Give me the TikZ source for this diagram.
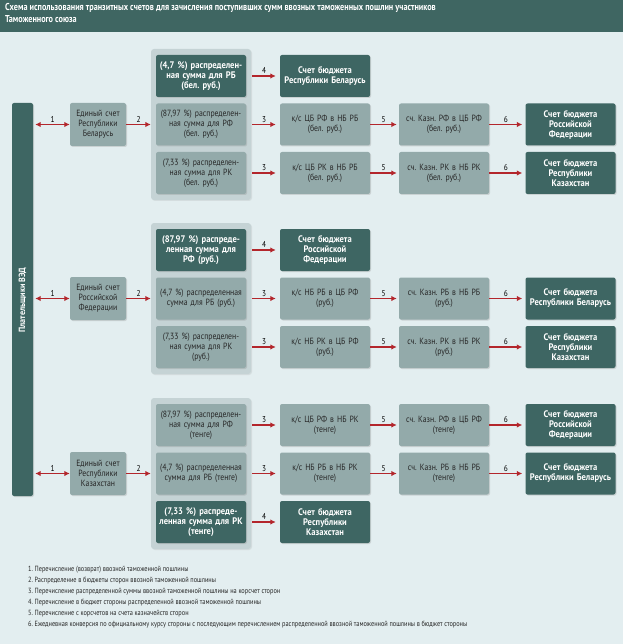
\documentclass[tikz,border=0pt]{standalone}
\usepackage{fontspec}
\setmainfont{PT Sans}[FakeStretch=0.82]
\newfontfamily\boxfont{PT Sans}[FakeStretch=0.86]
\newfontfamily\darkfont{PT Sans}[FakeStretch=0.9]
\newfontfamily\notefont{PT Sans}[FakeStretch=0.84]
\usepackage{tikz}
\usetikzlibrary{arrows.meta,shadows}
\definecolor{pagebg}{HTML}{E3EEF0}
\definecolor{headbg}{HTML}{3F6662}
\definecolor{darkbox}{HTML}{3E6663}
\definecolor{lightbox}{HTML}{93AAAA}
\definecolor{grpbox}{HTML}{C5D3D5}
\definecolor{arrred}{HTML}{B3262C}
\tikzset{
  >={Latex[length=5.5pt,width=5.5pt]},
  boxbase/.style={rounded corners=2pt, align=center, inner sep=1pt,
    text width=88pt, minimum width=90pt, minimum height=42pt,
    drop shadow={shadow xshift=1pt,shadow yshift=-1pt,opacity=0.25}},
  darkbox/.style={boxbase, fill=darkbox, text=white, font=\darkfont\fontsize{9.5}{10}\selectfont\bfseries},
  lightbox/.style={boxbase, fill=lightbox, text=black!85, font=\boxfont\fontsize{9}{10}\selectfont},
  unibox/.style={lightbox, text width=54pt, minimum width=54pt, minimum height=43pt},
  grpbox/.style={fill=grpbox, rounded corners=3pt, minimum width=100pt, minimum height=151pt,
    drop shadow={shadow xshift=1pt,shadow yshift=-1pt,opacity=0.15}},
  flow/.style={->, line width=1.7pt, draw=arrred},
  num/.style={font=\boxfont\fontsize{8.5}{9}\selectfont, text=black, above=1.5pt, inner sep=0pt}
}
\begin{document}
\frenchspacing
\begin{tikzpicture}[x=1pt,y=-1pt]
    \useasboundingbox (0,0) rectangle (623,644);
    % Page and header
    \fill[pagebg] (0,0) rectangle (623,644);
    \fill[headbg] (0,0) rectangle (623,32);
    \node[anchor=north west, text=white, align=left, inner sep=0pt,
      font=\fontsize{10}{12.5}\selectfont\bfseries] (title) at (5,3)
      {Схема использования транзитных счетов для зачисления поступивших сумм ввозных таможенных пошлин участников\\Таможенного союза};
    % Payers bar
    \node[darkbox, text width=, minimum width=21pt, minimum height=393pt] (payers) at (22.5,299.5) {};
    \node[rotate=90, text=white, font=\darkfont\fontsize{9}{10}\selectfont\bfseries] (payerstext) at (22.5,300) {Плательщики ВЭД};

    % ---- Belarus block ----
    \node[grpbox] (g1) at (201,124.5) {};
    \node[unibox] (e1) at (98,124.5) {Единый счет\\Республики\\Беларусь};
    \node[darkbox] (a1) at (201,76) {(4,7 \%) распределен-\\ная сумма для РБ\\(бел. руб.)};
    \node[lightbox] (a2) at (201,124.5) {(87,97 \%) распределен-\\ная сумма для РФ\\(бел. руб.)};
    \node[lightbox] (a3) at (201,173) {(7,33 \%) распределен-\\ная сумма для РК\\(бел. руб.)};
    \node[darkbox] (ab1) at (325,76) {Счет бюджета\\Республики Беларусь};
    \node[lightbox] (ak2) at (325,124.5) {к/с ЦБ РФ в НБ РБ\\(бел. руб.)};
    \node[lightbox] (ak3) at (325,173) {к/с ЦБ РК в НБ РБ\\(бел. руб.)};
    \node[lightbox, minimum width=88pt] (at2) at (444,124.5) {сч. Казн. РФ в ЦБ РФ\\(бел. руб.)};
    \node[lightbox, minimum width=88pt] (at3) at (444,173) {сч. Казн. РК в НБ РК\\(бел. руб.)};
    \node[darkbox] (ab2) at (570.5,124.5) {Счет бюджета\\Российской\\Федерации};
    \node[darkbox] (ab3) at (570.5,173) {Счет бюджета\\Республики\\Казахстан};
    \draw[flow, <->] ([xshift=2pt]payers.east|-e1) -- node[num] {1} (e1.west);
    \draw[flow] (e1.east) -- node[num] {2} (g1.west|-e1);
    \draw[flow] ([xshift=1pt]g1.east|-a1) -- node[num] {4} ([xshift=-4pt]ab1.west);
    \draw[flow] ([xshift=1pt]g1.east|-a2) -- node[num] {3} ([xshift=-4pt]ak2.west);
    \draw[flow] ([xshift=1pt]g1.east|-a3) -- node[num] {3} ([xshift=-4pt]ak3.west);
    \draw[flow] (ak2.east) -- node[num] {5} ([xshift=-2pt]at2.west);
    \draw[flow] (ak3.east) -- node[num] {5} ([xshift=-2pt]at3.west);
    \draw[flow] (at2.east) -- node[num] {6} ([xshift=-3pt]ab2.west);
    \draw[flow] (at3.east) -- node[num] {6} ([xshift=-3pt]ab3.west);

    % ---- Russia block ----
    \node[grpbox] (g2) at (201,298.5) {};
    \node[unibox] (e2) at (98,298.5) {Единый счет\\Российской\\Федерации};
    \node[darkbox] (b1) at (201,250) {(87,97 \%) распреде-\\ленная сумма для\\РФ (руб.)};
    \node[lightbox] (b2) at (201,298.5) {(4,7 \%) распределенная\\сумма для РБ (руб.)};
    \node[lightbox] (b3) at (201,347) {(7,33 \%) распределен-\\ная сумма для РК\\(руб.)};
    \node[darkbox] (bb1) at (325,250) {Счет бюджета\\Российской\\Федерации};
    \node[lightbox] (bk2) at (325,298.5) {к/с НБ РБ в ЦБ РФ\\(руб.)};
    \node[lightbox] (bk3) at (325,347) {к/с НБ РК в ЦБ РФ\\(руб.)};
    \node[lightbox, minimum width=88pt] (bt2) at (444,298.5) {сч. Казн. РБ в НБ РБ\\(руб.)};
    \node[lightbox, minimum width=88pt] (bt3) at (444,347) {сч. Казн. РК в НБ РК\\(руб.)};
    \node[darkbox] (bb2) at (570.5,298.5) {Счет бюджета\\Республики Беларусь};
    \node[darkbox] (bb3) at (570.5,347) {Счет бюджета\\Республики\\Казахстан};
    \draw[flow, <->] ([xshift=2pt]payers.east|-e2) -- node[num] {1} (e2.west);
    \draw[flow] (e2.east) -- node[num] {2} (g2.west|-e2);
    \draw[flow] ([xshift=1pt]g2.east|-b1) -- node[num] {4} ([xshift=-4pt]bb1.west);
    \draw[flow] ([xshift=1pt]g2.east|-b2) -- node[num] {3} ([xshift=-4pt]bk2.west);
    \draw[flow] ([xshift=1pt]g2.east|-b3) -- node[num] {3} ([xshift=-4pt]bk3.west);
    \draw[flow] (bk2.east) -- node[num] {5} ([xshift=-2pt]bt2.west);
    \draw[flow] (bk3.east) -- node[num] {5} ([xshift=-2pt]bt3.west);
    \draw[flow] (bt2.east) -- node[num] {6} ([xshift=-3pt]bb2.west);
    \draw[flow] (bt3.east) -- node[num] {6} ([xshift=-3pt]bb3.west);

    % ---- Kazakhstan block ----
    \node[grpbox] (g3) at (201,473.5) {};
    \node[unibox] (e3) at (98,473.5) {Единый счет\\Республики\\Казахстан};
    \node[lightbox] (c1) at (201,425) {(87,97 \%) распределен-\\ная сумма для РФ\\(тенге)};
    \node[lightbox] (c2) at (201,473.5) {(4,7 \%) распределенная\\сумма для РБ (тенге)};
    \node[darkbox] (c3) at (201,522) {(7,33 \%) распреде-\\ленная сумма для РК\\(тенге)};
    \node[lightbox] (ck1) at (325,425) {к/с ЦБ РФ в НБ РК\\(тенге)};
    \node[lightbox] (ck2) at (325,473.5) {к/с НБ РБ в НБ РК\\(тенге)};
    \node[darkbox] (cb3) at (325,522) {Счет бюджета\\Республики\\Казахстан};
    \node[lightbox, minimum width=88pt] (ct1) at (444,425) {сч. Казн. РФ в ЦБ РФ\\(тенге)};
    \node[lightbox, minimum width=88pt] (ct2) at (444,473.5) {сч. Казн. РБ в НБ РБ\\(тенге)};
    \node[darkbox] (cb1) at (570.5,425) {Счет бюджета\\Российской\\Федерации};
    \node[darkbox] (cb2) at (570.5,473.5) {Счет бюджета\\Республики Беларусь};
    \draw[flow, <->] ([xshift=2pt]payers.east|-e3) -- node[num] {1} (e3.west);
    \draw[flow] (e3.east) -- node[num] {2} (g3.west|-e3);
    \draw[flow] ([xshift=1pt]g3.east|-c1) -- node[num] {3} ([xshift=-4pt]ck1.west);
    \draw[flow] ([xshift=1pt]g3.east|-c2) -- node[num] {3} ([xshift=-4pt]ck2.west);
    \draw[flow] ([xshift=1pt]g3.east|-c3) -- node[num] {4} ([xshift=-4pt]cb3.west);
    \draw[flow] (ck1.east) -- node[num] {5} ([xshift=-2pt]ct1.west);
    \draw[flow] (ck2.east) -- node[num] {5} ([xshift=-2pt]ct2.west);
    \draw[flow] (ct1.east) -- node[num] {6} ([xshift=-3pt]cb1.west);
    \draw[flow] (ct2.east) -- node[num] {6} ([xshift=-3pt]cb2.west);

    % Legend
    \node[anchor=north west, align=left, inner sep=0pt, text=black!85,
      font=\notefont\fontsize{7.5}{11}\selectfont] (legend) at (28,566)
      {1. Перечисление (возврат) ввозной таможенной пошлины\\
       2. Распределение в бюджеты сторон ввозной таможенной пошлины\\
       3. Перечисление распределенной суммы ввозной таможенной пошлины на корсчет сторон\\
       4. Перечисление в бюджет стороны распределенной ввозной таможенной пошлины\\
       5. Перечисление с корсчетов на счета казначейств сторон\\
       6. Ежедневная конверсия по официальному курсу стороны с последующим перечислением распределенной ввозной таможенной пошлины в бюджет стороны};
\end{tikzpicture}
\end{document}
